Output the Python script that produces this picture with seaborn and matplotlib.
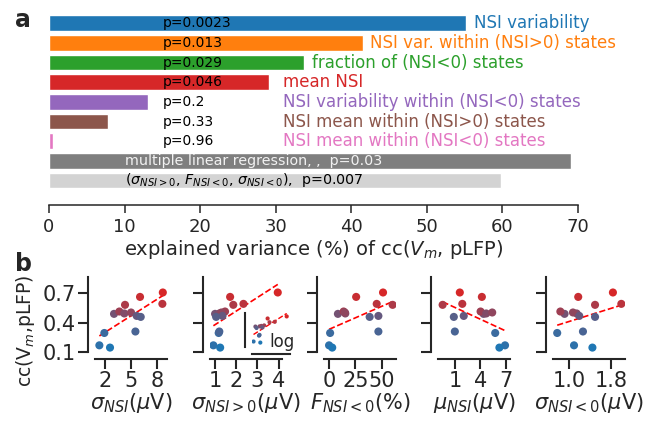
import numpy as np
import pandas as pd
import matplotlib
matplotlib.use("Agg")
import matplotlib.pyplot as plt
from matplotlib.colors import LinearSegmentedColormap
import seaborn as sns

sns.set_style("ticks")
plt.rcParams["font.family"] = ["DejaVu Sans"]
plt.rcParams["mathtext.fontset"] = "dejavusans"

# ---- panel a: explained variance per NSI feature ----
feature_labels = [
    "NSI variability",
    "NSI var. within (NSI>0) states",
    "fraction of (NSI<0) states",
    "mean NSI",
    "NSI variability within (NSI<0) states",
    "NSI mean within (NSI>0) states",
    "NSI mean within (NSI<0) states",
    "multiple linear regression, ,  p=0.03",
    r"($\sigma_{NSI>0}$, $F_{NSI<0}$, $\sigma_{NSI<0}$),  p=0.007",
]
explained_variance = [55.2, 41.5, 33.8, 29.1, 13.1, 7.8, 0.5, 69.1, 59.8]
p_values = ["p=0.0023", "p=0.013", "p=0.029", "p=0.046", "p=0.2", "p=0.33", "p=0.96"]
bar_colors = ["tab:blue", "tab:orange", "tab:green", "tab:red", "tab:purple",
              "tab:brown", "tab:pink", "tab:gray", "lightgray"]

# ---- panel b: cc(Vm, pLFP) of each cell vs. single NSI features ----
cc_vm_plfp = [0.168, 0.145, 0.294, 0.309, 0.489, 0.513, 0.581,
              0.493, 0.503, 0.662, 0.468, 0.458, 0.707, 0.591]
sigma_nsi = [1.35, 2.57, 1.92, 5.48, 3.03, 3.64, 4.29,
             4.21, 4.98, 6.01, 5.63, 6.09, 8.62, 8.57]
sigma_nsi_pos = [0.92, 1.24, 1.17, 1.20, 1.00, 1.47, 1.86,
                 1.20, 1.30, 1.71, 1.35, 1.05, 3.96, 2.34]
frac_nsi_neg = [0.0, 3.0, 1.0, 46.8, 8.4, 13.8, 60.3,
                15.4, 15.0, 25.7, 46.8, 38.5, 51.2, 45.2]
mu_nsi = [6.87, 6.21, 5.72, 1.0, 4.36, 4.01, -0.43,
          4.67, 5.37, 4.16, 2.04, 0.88, 1.58, 1.87]
sigma_nsi_neg = [1.10, 1.45, 0.78, 1.27, 0.92, 0.84, 1.50,
                 1.15, 1.08, 1.18, 1.20, 1.50, 1.84, 2.00]

W, H = 655, 425
fig = plt.figure(figsize=(W / 100, H / 100), dpi=100)


def rect(left, top, right, bottom):
    return [left / W, 1 - bottom / H, (right - left) / W, (bottom - top) / H]


# ---------------- panel a ----------------
ax = fig.add_axes(rect(49, 13.5, 578, 190.3))
df_a = pd.DataFrame({"feature": feature_labels, "ev": explained_variance})
sns.barplot(data=df_a, x="ev", y="feature", hue="feature", palette=bar_colors,
            saturation=1, width=0.8, legend=False, orient="h", ax=ax)
ax.set_xlim(0, 70)
ax.set_xticks(np.arange(0, 71, 10))
ax.set_yticks([])
ax.set_ylabel("")
ax.set_xlabel(r"explained variance (%) of cc($V_m$, pLFP)", fontsize=14, labelpad=2)
for s in ["left", "right", "top"]:
    ax.spines[s].set_visible(False)
ax.spines["bottom"].set_position(("outward", 10.6))
ax.spines["bottom"].set_linewidth(1.1)
ax.tick_params(axis="x", labelsize=13, length=6, width=1.1, pad=3)

n_single = len(p_values)
for i in range(n_single):
    ax.text(15, i, p_values[i], va="center", ha="left", fontsize=10, color="black")
    ax.text(max(explained_variance[i], 30) + 1.0, i, feature_labels[i], va="center",
            ha="left", fontsize=12, color=bar_colors[i])
ax.text(10, n_single, feature_labels[n_single], va="center", ha="left",
        fontsize=10.3, color="#f2f2f2")
ax.text(10, n_single + 1, feature_labels[n_single + 1], va="center", ha="left",
        fontsize=10.3, color="black")

fig.text(15 / W, 1 - 20 / H, "a", fontsize=17, fontweight="bold", va="center", ha="left")
fig.text(15 / W, 1 - 264 / H, "b", fontsize=17, fontweight="bold", va="center", ha="left")

# ---------------- panel b ----------------
cmap = LinearSegmentedColormap.from_list("blue_red", ["tab:blue", "tab:red"])
cc_rank = pd.Series(cc_vm_plfp).rank().values - 1
n_cells = len(cc_vm_plfp)

panels = [
    (sigma_nsi, r"$\sigma_{NSI}(\mu$V)", [2, 5, 8], ["2", "5", "8"], (0.85, 9.1)),
    (sigma_nsi_pos, r"$\sigma_{NSI>0}(\mu$V)", [1, 2, 3, 4], ["1", "2", "3", "4"], (0.76, 4.16)),
    (frac_nsi_neg, r"$F_{NSI<0}$(%)", [0, 25, 50], ["0", "25", "50"], (-4.8, 63.5)),
    (mu_nsi, r"$\mu_{NSI}(\mu$V)", [1, 4, 7], ["1", "4", "7"], (-0.97, 7.45)),
    (sigma_nsi_neg, r"$\sigma_{NSI<0}(\mu$V)", [1.0, 1.8], ["1.0", "1.8"], (0.70, 2.07)),
]
lefts = [95, 210, 324, 438, 553]


def style_axis(a, lw=1.5, offset=5):
    for s in ["right", "top"]:
        a.spines[s].set_visible(False)
    for s in ["left", "bottom"]:
        a.spines[s].set_position(("outward", offset))
        a.spines[s].set_linewidth(lw)


for k, (xvals, xlabel, xt, xtl, xlim) in enumerate(panels):
    a = fig.add_axes(rect(lefts[k], 277, lefts[k] + 72, 352))
    d = pd.DataFrame({"x": xvals, "cc": cc_vm_plfp, "rank": cc_rank})
    sns.regplot(data=d, x="x", y="cc", scatter=False, ci=None, ax=a,
                line_kws=dict(color="red", ls="--", lw=1.2))
    sns.scatterplot(data=d, x="x", y="cc", hue="rank", palette=cmap,
                    hue_norm=(0, n_cells - 1), s=34, edgecolor="none",
                    legend=False, ax=a, zorder=3)
    a.set_xlim(*xlim)
    a.set_ylim(0.1, 0.865)
    a.set_xticks(xt)
    a.set_xticklabels(xtl)
    a.set_yticks([0.1, 0.4, 0.7])
    style_axis(a)
    a.tick_params(labelsize=15, length=7.5, width=1.5, pad=1.5)
    a.set_xlabel(xlabel, fontsize=15, labelpad=0)
    if k == 0:
        a.set_yticklabels(["0.1", "0.4", "0.7"])
        a.set_ylabel(r"cc(V$_m$,pLFP)", fontsize=13.5)
        a.yaxis.set_label_coords(-0.8, 0.28)
    else:
        a.set_yticklabels([])
        a.set_ylabel("")
    if k == 1:
        # same data with a logarithmic x axis
        ins = fig.add_axes(rect(252, 313, 290, 347))
        sns.regplot(data=d, x="x", y="cc", scatter=False, ci=None, logx=True, ax=ins,
                    line_kws=dict(color="red", ls="--", lw=1.0))
        sns.scatterplot(data=d, x="x", y="cc", hue="rank", palette=cmap,
                        hue_norm=(0, n_cells - 1), s=9, edgecolor="none",
                        legend=False, ax=ins, zorder=3)
        ins.set_xscale("log")
        ins.set_xlim(0.86, 4.58)
        ins.set_ylim(0.05, 0.78)
        ins.set_xticks([])
        ins.set_xticks([], minor=True)
        ins.set_yticks([])
        ins.set_xlabel("")
        ins.set_ylabel("")
        ins.patch.set_alpha(0)
        style_axis(ins, lw=1.5, offset=5)
        ins.text(0.47, -0.12, "log", transform=ins.transAxes, fontsize=12,
                 ha="left", va="bottom")

fig.savefig("out.png", dpi=100)
